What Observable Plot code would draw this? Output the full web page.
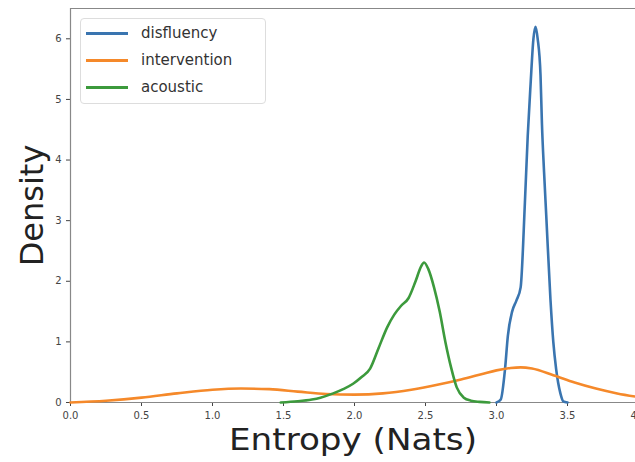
<!DOCTYPE html>
<html><head><meta charset="utf-8">
<script src="https://cdn.jsdelivr.net/npm/d3@7"></script>
<script src="https://cdn.jsdelivr.net/npm/@observablehq/plot@0.6"></script>
<style>
body{margin:0;background:#fff;}
#wrap{position:relative;width:635px;height:462px;overflow:hidden;}
#legend{position:absolute;left:80px;top:18px;width:184px;height:84px;border:1px solid #ddd;border-radius:4px;background:rgba(255,255,255,0.85);font-family:"DejaVu Sans",sans-serif;font-size:15px;color:#333;}
.row{position:absolute;left:5px;height:20px;display:flex;align-items:center;}
.sw{width:42px;height:3px;margin-right:13px;}
</style></head>
<body><div id="wrap"></div>
<script>
const seriesNames = ["disfluency","intervention","acoustic"];
const seriesColors = ["#3a75b0","#f5892a","#3c9a3c"];
const disfluencyX = [3.00,3.03,3.06,3.08,3.11,3.14,3.17,3.20,3.22,3.24,3.26,3.275,3.29,3.31,3.32,3.335,3.35,3.38,3.40,3.42,3.45,3.47,3.50];
const disfluencyY = [0.00,0.05,0.55,1.10,1.50,1.68,1.90,3.30,4.40,5.25,6.00,6.20,6.00,5.40,4.60,3.80,3.10,1.70,1.00,0.55,0.15,0.02,0.00];
const interventionX = [0.0,0.25,0.5,0.75,1.0,1.2,1.4,1.6,1.8,2.0,2.2,2.4,2.6,2.75,2.9,3.0,3.1,3.17,3.25,3.4,3.55,3.7,3.85,4.0];
const interventionY = [0.00,0.03,0.08,0.15,0.21,0.23,0.22,0.18,0.14,0.13,0.15,0.21,0.30,0.38,0.47,0.53,0.57,0.58,0.56,0.45,0.33,0.23,0.15,0.09];
const acousticX = [1.48,1.6,1.7,1.76,1.85,1.92,1.99,2.05,2.11,2.17,2.23,2.28,2.33,2.38,2.43,2.47,2.49,2.52,2.56,2.60,2.64,2.68,2.72,2.77,2.82,2.88,2.95];
const acousticY = [0.00,0.02,0.05,0.08,0.15,0.22,0.31,0.42,0.56,0.90,1.24,1.45,1.60,1.72,2.00,2.25,2.31,2.20,1.90,1.50,1.00,0.58,0.25,0.08,0.03,0.01,0.00];
const yTicks = [0,1,2,3,4,5,6];
const xTicks = [0,0.5,1,1.5,2,2.5,3,3.5,4];

const data = [];
[[disfluencyX,disfluencyY],[interventionX,interventionY],[acousticX,acousticY]].forEach(([xs,ys],i)=>{
  xs.forEach((x,j)=>data.push({series:seriesNames[i],x,y:ys[j]}));
});

const yMax = 6.5;
const chart = Plot.plot({
  width:635,height:462,marginLeft:70,marginRight:0,marginTop:8,marginBottom:60,
  style:{fontFamily:"DejaVu Sans, sans-serif",fontSize:"10px",color:"#444",background:"white"},
  x:{domain:[0,4],range:[70,638],ticks:xTicks,tickFormat:d3.format(".1f"),label:null,tickSize:4},
  y:{domain:[0,yMax],ticks:yTicks,tickFormat:d=>d,label:null,tickSize:4},
  color:{domain:seriesNames,range:seriesColors},
  marks:[
    Plot.ruleX([0],{stroke:"#888",strokeWidth:1.2}),
    Plot.ruleY([0],{stroke:"#888",strokeWidth:1.2}),
    Plot.ruleY([yMax],{stroke:"#888",strokeWidth:1.2}),
    Plot.line(data,{x:"x",y:"y",z:"series",stroke:"series",strokeWidth:2.6,curve:"monotone-x"}),
    Plot.text(["Density"],{frameAnchor:"left",textAnchor:"middle",dx:-38,rotate:-90,fontSize:32,fill:"#222",fontFamily:"DejaVu Sans, sans-serif",className:"ylab"}),
    Plot.text(["Entropy (Nats)"],{frameAnchor:"bottom",textAnchor:"middle",dy:47,dx:0,fontSize:30,fill:"#222",fontFamily:"DejaVu Sans, sans-serif",className:"xlab"})
  ]
});
const wrap = document.getElementById("wrap");
wrap.appendChild(chart);
chart.querySelectorAll(".xlab text").forEach(t=>{t.setAttribute("textLength","248");t.setAttribute("lengthAdjust","spacingAndGlyphs");});
const leg = document.createElement("div");
leg.id="legend";
seriesNames.forEach((n,i)=>{
  const r=document.createElement("div");r.className="row";r.style.top=(4+i*27)+"px";
  const s=document.createElement("div");s.className="sw";s.style.background=seriesColors[i];
  const t=document.createElement("span");t.textContent=n;
  r.appendChild(s);r.appendChild(t);leg.appendChild(r);
});
wrap.appendChild(leg);
</script></body></html>
